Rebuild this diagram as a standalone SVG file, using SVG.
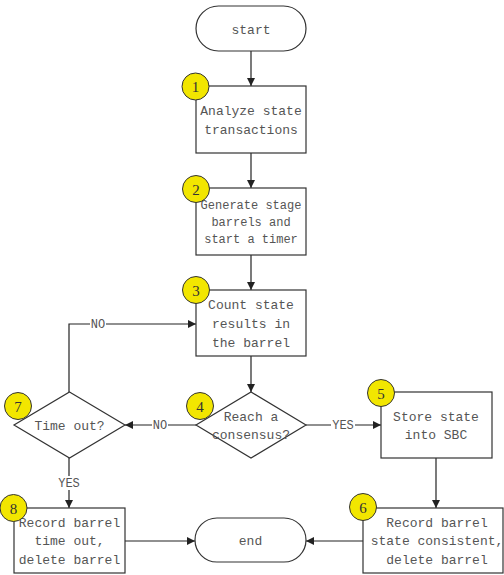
<svg xmlns="http://www.w3.org/2000/svg" width="504" height="575" viewBox="0 0 504 575">
<style>
.n{fill:#fff;stroke:#333;stroke-width:1.2}
.t{font-family:"Liberation Mono",monospace;font-size:13px;fill:#555;text-anchor:middle}
.s{font-size:12px}
.c{fill:#f2e600;stroke:#333;stroke-width:1}
.ct{font-family:"Liberation Serif",serif;font-size:15px;fill:#333;text-anchor:middle}
.e{stroke:#222;stroke-width:1.2;fill:none}
.l{font-family:"Liberation Mono",monospace;font-size:12px;fill:#555;text-anchor:middle}
.bg{fill:#fff}
</style>
<defs>
<marker id="a" viewBox="0 0 10 10" refX="10" refY="5" markerWidth="8" markerHeight="8" markerUnits="userSpaceOnUse" orient="auto">
<path d="M0,0L10,5L0,10z" fill="#222"/>
</marker>
</defs>
<g id="connectors">
<path class="e" d="M251,51V86" marker-end="url(#a)"/>
<path class="e" d="M251,153V188" marker-end="url(#a)"/>
<path class="e" d="M251,255V290" marker-end="url(#a)"/>
<path class="e" d="M251,356V392" marker-end="url(#a)"/>
<path class="e" d="M306,425H381" marker-end="url(#a)"/>
<rect class="bg" x="331" y="418" width="24" height="14"/>
<text class="l" x="343" y="429">YES</text>
<path class="e" d="M196,425H125" marker-end="url(#a)"/>
<rect class="bg" x="152" y="418" width="16" height="14"/>
<text class="l" x="160" y="429">NO</text>
<path class="e" d="M69,392V324H196" marker-end="url(#a)"/>
<rect class="bg" x="90" y="317" width="16" height="14"/>
<text class="l" x="98" y="328">NO</text>
<path class="e" d="M69,458V508" marker-end="url(#a)"/>
<rect class="bg" x="57" y="476" width="24" height="14"/>
<text class="l" x="69" y="487">YES</text>
<path class="e" d="M436,458V508" marker-end="url(#a)"/>
<path class="e" d="M363,541H306" marker-end="url(#a)"/>
<path class="e" d="M125,541H195" marker-end="url(#a)"/>
</g>
<g id="start">
<rect class="n" x="196" y="6" width="110" height="45" rx="22.5"/>
<text class="t" x="251" y="34">start</text>
</g>
<g id="n1">
<rect class="n" x="196" y="86" width="110" height="67"/>
<text class="t" x="251" y="115">Analyze state</text>
<text class="t" x="251" y="134">transactions</text>
<circle class="c" cx="195.5" cy="86.5" r="13.5"/>
<text class="ct" x="195.5" y="92">1</text>
</g>
<g id="n2">
<rect class="n" x="196" y="188" width="110" height="67"/>
<text class="t s" x="251" y="209">Generate stage</text>
<text class="t s" x="251" y="226">barrels and</text>
<text class="t s" x="251" y="243">start a timer</text>
<circle class="c" cx="196" cy="189" r="13.5"/>
<text class="ct" x="196" y="194.5">2</text>
</g>
<g id="n3">
<rect class="n" x="196" y="290" width="110" height="66"/>
<text class="t" x="251" y="309">Count state</text>
<text class="t" x="251" y="328">results in</text>
<text class="t" x="251" y="347">the barrel</text>
<circle class="c" cx="196" cy="290" r="13.5"/>
<text class="ct" x="196" y="295.5">3</text>
</g>
<g id="n4">
<path class="n" d="M251,392L306,425L251,458L196,425z"/>
<text class="t" x="251" y="421">Reach a</text>
<text class="t" x="251" y="439">consensus?</text>
<circle class="c" cx="200" cy="406" r="13.5"/>
<text class="ct" x="200" y="411.5">4</text>
</g>
<g id="n5">
<rect class="n" x="381" y="392" width="111" height="66"/>
<text class="t" x="436" y="421">Store state</text>
<text class="t" x="436" y="439">into SBC</text>
<circle class="c" cx="381" cy="393" r="13.5"/>
<text class="ct" x="381" y="398.5">5</text>
</g>
<g id="n6">
<rect class="n" x="363" y="508" width="140" height="65"/>
<text class="t" x="437" y="527">Record barrel</text>
<text class="t" x="437" y="545">state consistent,</text>
<text class="t" x="437" y="564">delete barrel</text>
<circle class="c" cx="363" cy="507" r="13.5"/>
<text class="ct" x="363" y="512.5">6</text>
</g>
<g id="n7">
<path class="n" d="M69.5,392L125,425L69.5,458L14,425z"/>
<text class="t" x="69.5" y="430">Time out?</text>
<circle class="c" cx="18" cy="406" r="13.5"/>
<text class="ct" x="18" y="411.5">7</text>
</g>
<g id="n8">
<rect class="n" x="14" y="508" width="111" height="65"/>
<text class="t" x="69.5" y="527">Record barrel</text>
<text class="t" x="69.5" y="545">time out,</text>
<text class="t" x="69.5" y="564">delete barrel</text>
<circle class="c" cx="13.5" cy="508" r="13.5"/>
<text class="ct" x="13.5" y="513.5">8</text>
</g>
<g id="end">
<rect class="n" x="195" y="518" width="111" height="44" rx="22"/>
<text class="t" x="250.5" y="545">end</text>
</g>
</svg>
